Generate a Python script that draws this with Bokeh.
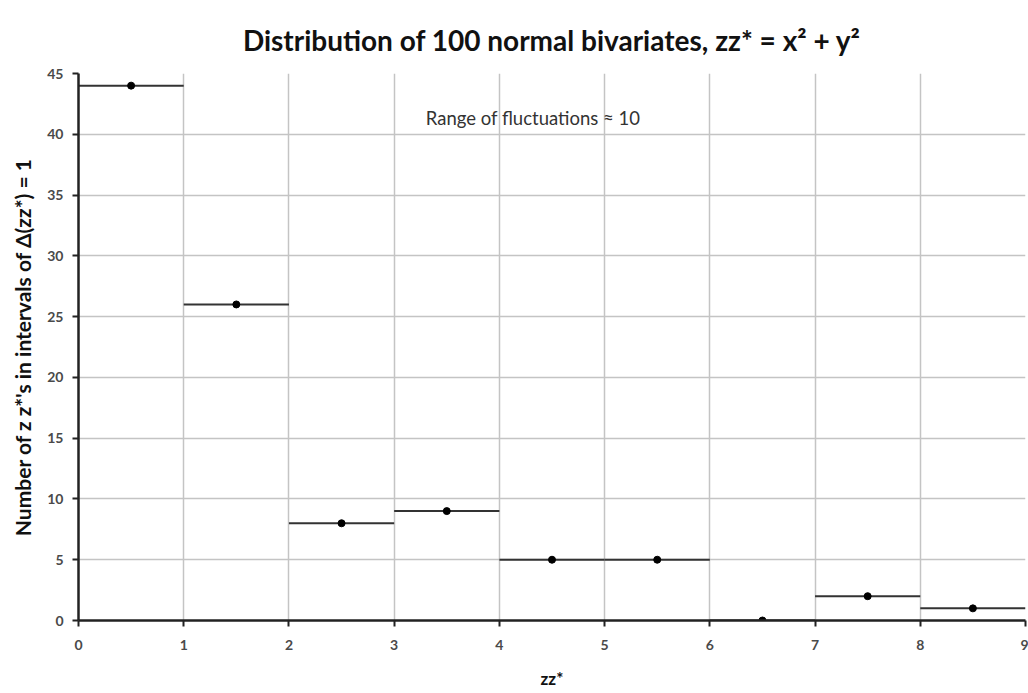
from bokeh.plotting import figure
from bokeh.models import Range1d, FixedTicker, Label, ColumnDataSource
from bokeh.embed import file_html
from bokeh.resources import INLINE

# data
bin_centers = [0.5, 1.5, 2.5, 3.5, 4.5, 5.5, 6.5, 7.5, 8.5]
counts = [44, 26, 8, 9, 5, 5, 0, 2, 1]
x_ticks = [0, 1, 2, 3, 4, 5, 6, 7, 8, 9]
y_ticks = [0, 5, 10, 15, 20, 25, 30, 35, 40, 45]
title_text = "Distribution of 100 normal bivariates, zz* = x\u00b2 + y\u00b2"
x_label = "zz*"
y_label = "Number of z z*'s in intervals of \u0394(zz*) = 1"
note_text = "Range of fluctuations \u2248 10"

FONT = "Lato"

p = figure(width=1028, height=693, output_backend="svg", toolbar_location=None,
           x_range=Range1d(0, 9), y_range=Range1d(0, 45),
           min_border_left=78, min_border_right=3, min_border_top=73, min_border_bottom=73)
p.title.text = title_text
p.title.align = "center"
p.title.text_font = FONT
p.title.text_font_size = "28px"
p.title.text_font_style = "bold"
p.title.text_color = "#111111"
p.title.standoff = 34
p.outline_line_color = None
p.background_fill_color = "white"

p.xaxis.ticker = FixedTicker(ticks=x_ticks)
p.yaxis.ticker = FixedTicker(ticks=y_ticks)
for ax in (p.xaxis[0], p.yaxis[0]):
    ax.axis_line_color = "#222222"
    ax.axis_line_width = 2.5
    ax.major_tick_line_color = "#222222"
    ax.major_tick_line_width = 2
    ax.major_tick_out = 6
    ax.major_tick_in = 0
    ax.minor_tick_line_color = None
    ax.major_label_text_font = FONT
    ax.major_label_text_font_size = "14px"
    ax.major_label_text_font_style = "bold"
    ax.major_label_text_color = "#4a4a4a"
    ax.axis_label_text_font = FONT
    ax.axis_label_text_font_style = "bold"
    ax.axis_label_text_color = "#111111"
p.xaxis.axis_label = x_label
p.yaxis.axis_label = y_label
p.xaxis.axis_label_text_font_size = "17px"
p.yaxis.axis_label_text_font_size = "21px"
p.xaxis.major_label_standoff = 13
p.xaxis.axis_label_standoff = 15
p.yaxis.major_label_standoff = 9
p.yaxis.axis_label_standoff = 9

p.xgrid.grid_line_color = "#c4c4c4"
p.ygrid.grid_line_color = "#c4c4c4"
p.xgrid.grid_line_width = 1.5
p.ygrid.grid_line_width = 1.5

src = ColumnDataSource(dict(
    x=bin_centers, y=counts,
    x0=[c - 0.5 for c in bin_centers], x1=[c + 0.5 for c in bin_centers]))
p.segment(x0="x0", y0="y", x1="x1", y1="y", source=src, line_color="#333333", line_width=2)
p.scatter(x="x", y="y", source=src, size=7, fill_color="black", line_color="black")

p.add_layout(Label(x=4.32, y=41.3, text=note_text, text_align="center", text_baseline="middle",
                   text_font=FONT, text_font_size="18.5px", text_color="#333333"))

open("out.html", "w").write(file_html(p, INLINE))
